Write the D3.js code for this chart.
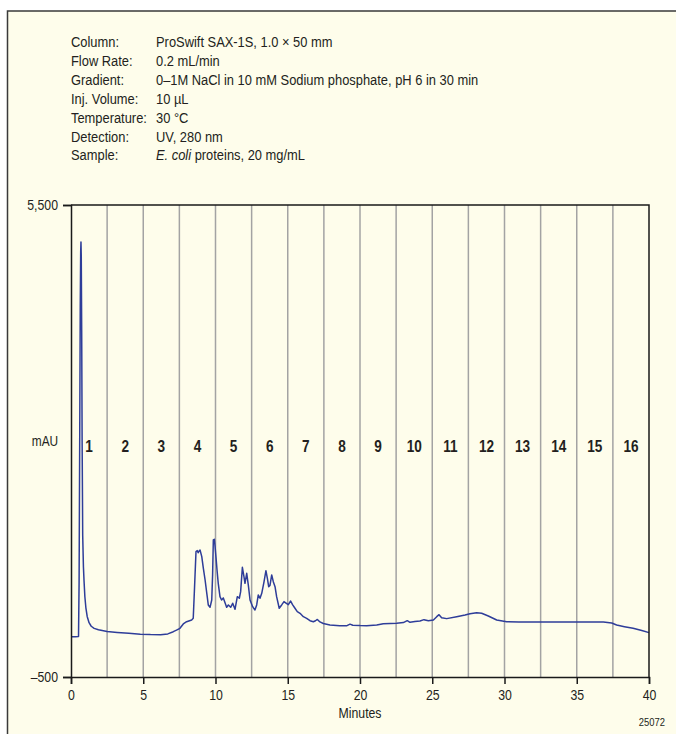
<!DOCTYPE html>
<html>
<head>
<meta charset="utf-8">
<script src="https://cdn.jsdelivr.net/npm/d3@7"></script>
<style>
  html, body { margin: 0; padding: 0; background: #ffffff; }
  svg { display: block; }
  text { font-family: "Liberation Sans", Arial, Helvetica, sans-serif; fill: #231f20; }
</style>
</head>
<body>
<svg id="chart" width="676" height="734"></svg>
<script>
// Run conditions shown above the chromatogram
const conditionLabels = ["Column:", "Flow Rate:", "Gradient:", "Inj. Volume:", "Temperature:", "Detection:", "Sample:"];
const conditionValues = [
  "ProSwift SAX-1S, 1.0 \u00d7 50 mm",
  "0.2 mL/min",
  "0\u20131M NaCl in 10 mM Sodium phosphate, pH 6 in 30 min",
  "10 \u00b5L",
  "30 \u00b0C",
  "UV, 280 nm",
  "E. coli proteins, 20 mg/mL"
];

// Axis ticks
const xTicks = [0, 5, 10, 15, 20, 25, 30, 35, 40];
const yTicks = [-500, 5500];

// Fraction collection boundaries (min) and fraction numbers
const fractionEdges = [2.5, 5, 7.5, 10, 12.5, 15, 17.5, 20, 22.5, 25, 27.5, 30, 32.5, 35, 37.5];
const fractionNumbers = [1, 2, 3, 4, 5, 6, 7, 8, 9, 10, 11, 12, 13, 14, 15, 16];

// UV trace: retention time (min) and absorbance (mAU)
const traceTime = [
  0, 0.3, 0.52, 0.56, 0.6, 0.64, 0.67, 0.69, 0.71, 0.74, 0.77, 0.81, 0.86, 0.9, 0.96, 1.03, 1.12,
  1.25, 1.4, 1.6, 1.9, 2.5, 3.2, 4.0, 4.8, 5.5, 6.2, 6.7, 7.08, 7.3, 7.54, 7.77, 8.0, 8.2, 8.35, 8.46,
  8.55, 8.65, 8.74, 8.8, 8.86, 8.93, 9.05, 9.16, 9.28, 9.4, 9.5, 9.62, 9.74, 9.8, 9.85, 9.92, 9.97,
  10.03, 10.11, 10.19, 10.31, 10.42, 10.54, 10.66, 10.77, 10.89, 11.05, 11.19, 11.35, 11.51, 11.65,
  11.74, 11.86, 11.97, 12.04, 12.16, 12.27, 12.39, 12.57, 12.73, 12.85, 12.96, 13.08, 13.2, 13.36,
  13.49, 13.59, 13.68, 13.77, 13.89, 14.0, 14.12, 14.23, 14.41, 14.58, 14.74, 14.88, 15.04, 15.2,
  15.33, 15.5, 15.66, 15.85, 16.08, 16.31, 16.54, 16.77, 16.92, 17.05, 17.23, 17.46, 17.92, 18.6,
  19.1, 19.31, 19.5, 20.0, 20.46, 21.16, 21.61, 22.1, 22.54, 23.0, 23.27, 23.46, 23.8, 24.15, 24.43,
  24.73, 25.08, 25.31, 25.47, 25.65, 26.0, 26.69, 27.27, 27.61, 28.07, 28.42, 28.88, 29.46, 30.15,
  31.0, 32.0, 33.5, 35.0, 36.3, 36.84, 37.42, 37.76, 38.3, 38.9, 39.5, 40
];
const traceValue = [
  13, 13, 14, 700, 2400, 4200, 4900, 5030, 4850, 3900, 2500, 1300, 900, 730, 520, 380, 270,
  190, 145, 118, 100, 78, 66, 55, 45, 40, 38, 48, 76, 95, 119, 174, 203, 216, 225, 246,
  640, 1093, 1106, 1080, 1100, 1115, 1030, 880, 733, 560, 416, 386, 479, 800, 1242, 1251, 1160,
  1030, 850, 691, 521, 479, 505, 445, 386, 416, 386, 437, 361, 521, 501,
  585, 895, 775, 691, 818, 670, 479, 394, 352, 416, 543, 501, 564, 712,
  852, 755, 648, 665, 797, 712, 648, 521, 374, 416, 458, 440, 420, 466,
  420, 374, 331, 310, 267, 246, 216, 203, 215, 232, 200, 180, 161, 150,
  152, 172, 158, 154, 153, 160, 178, 180, 183, 192, 216, 195, 205, 212, 229,
  215, 225, 267, 292, 254, 242, 267, 289, 305, 318, 310, 276, 225, 203,
  200, 200, 200, 200, 200, 200, 187, 161, 140, 119, 92, 64
];

const svg = d3.select("#chart");
const W = 676, H = 734;
const plot = { left: 71, right: 649, top: 205, bottom: 677 };
const NARROW = 0.82; // horizontal squeeze for a condensed type look

// Place a horizontally condensed text at (px, py)
function narrowText(parent, px, py, str, opts = {}) {
  const t = parent.append("text")
    .attr("transform", `translate(${px},${py}) scale(${opts.sx || NARROW},1)`)
    .attr("font-size", opts.size || 15)
    .attr("text-anchor", opts.anchor || "start");
  if (opts.weight) t.attr("font-weight", opts.weight);
  if (str !== null) t.text(str);
  return t;
}

// Panel background and frame
svg.append("rect")
  .attr("x", 7.5).attr("y", 11)
  .attr("width", W + 20).attr("height", H + 20)
  .attr("fill", "#fefdeb")
  .attr("stroke", "#3a3a3a")
  .attr("stroke-width", 1.5);

// Run conditions block
const header = svg.append("g");
const headOpts = { size: 15, sx: 0.86 };
conditionLabels.forEach((lab, i) => {
  const yy = 47 + i * 18.9;
  narrowText(header, 71, yy, lab, headOpts);
  if (lab === "Sample:") {
    const t = narrowText(header, 156, yy, null, headOpts);
    t.append("tspan").attr("font-style", "italic").text("E. coli");
    t.append("tspan").text(conditionValues[i].replace("E. coli", ""));
  } else {
    narrowText(header, 156, yy, conditionValues[i], headOpts);
  }
});

// Scales
const x = d3.scaleLinear().domain([0, 40]).range([plot.left, plot.right]);
const y = d3.scaleLinear().domain([-500, 5500]).range([plot.bottom, plot.top]);

// Fraction dividers
svg.append("g")
  .selectAll("line")
  .data(fractionEdges)
  .join("line")
  .attr("x1", d => x(d)).attr("x2", d => x(d))
  .attr("y1", plot.top).attr("y2", plot.bottom)
  .attr("stroke", "#a3a3a3")
  .attr("stroke-width", 1.5);

// Fraction numbers centred in each 2.5-min window
const fracG = svg.append("g");
fractionNumbers.forEach(d => {
  narrowText(fracG, x((d - 0.5) * 2.5), 452, String(d),
    { anchor: "middle", size: 16, weight: "bold", sx: 0.85 });
});

// Trace
const points = traceTime.map((t, i) => [t, traceValue[i]]);
svg.append("path")
  .datum(points)
  .attr("fill", "none")
  .attr("stroke", "#2e3d99")
  .attr("stroke-width", 1.5)
  .attr("stroke-linejoin", "round")
  .attr("d", d3.line().x(d => x(d[0])).y(d => y(d[1])));

// Top and right plot border
svg.append("path")
  .attr("d", `M${plot.left},${plot.top}H${plot.right}V${plot.bottom}`)
  .attr("fill", "none")
  .attr("stroke", "#1a1a1a")
  .attr("stroke-width", 1.5);

// Axes
const xAxis = svg.append("g")
  .attr("transform", `translate(0,${plot.bottom})`)
  .call(d3.axisBottom(x).tickValues(xTicks).tickSize(7).tickPadding(5).tickFormat(d3.format("d")));
const yAxis = svg.append("g")
  .attr("transform", `translate(${plot.left},0)`)
  .call(d3.axisLeft(y).tickValues(yTicks).tickSize(8).tickPadding(5)
    .tickFormat(d => d < 0 ? "\u2013" + d3.format(",")(-d) : d3.format(",")(d)));
[xAxis, yAxis].forEach(g => {
  g.select(".domain").attr("stroke", "#1a1a1a").attr("stroke-width", 1.5);
  g.selectAll(".tick line").attr("stroke", "#1a1a1a").attr("stroke-width", 1.5);
  g.selectAll(".tick text")
    .attr("font-size", 15)
    .attr("font-family", "\"Liberation Sans\", Arial, Helvetica, sans-serif")
    .attr("fill", "#231f20");
});
// Condense tick labels around their anchor points
xAxis.selectAll(".tick text").each(function () {
  const t = d3.select(this);
  const yy = +t.attr("y");
  t.attr("y", null).attr("dy", "0.71em")
    .attr("transform", `translate(0,${yy}) scale(${NARROW},1)`);
});
yAxis.selectAll(".tick text").each(function () {
  const t = d3.select(this);
  const xx = +t.attr("x");
  t.attr("x", null).attr("transform", `translate(${xx},0) scale(${NARROW},1)`);
});

// Axis titles
narrowText(svg, 45, 446, "mAU", { anchor: "middle", size: 14.5 });
narrowText(svg, 360, 718, "Minutes", { anchor: "middle", size: 15 });

// Figure number
narrowText(svg, 665, 726, "25072", { anchor: "end", size: 11.5 });
</script>
</body>
</html>
